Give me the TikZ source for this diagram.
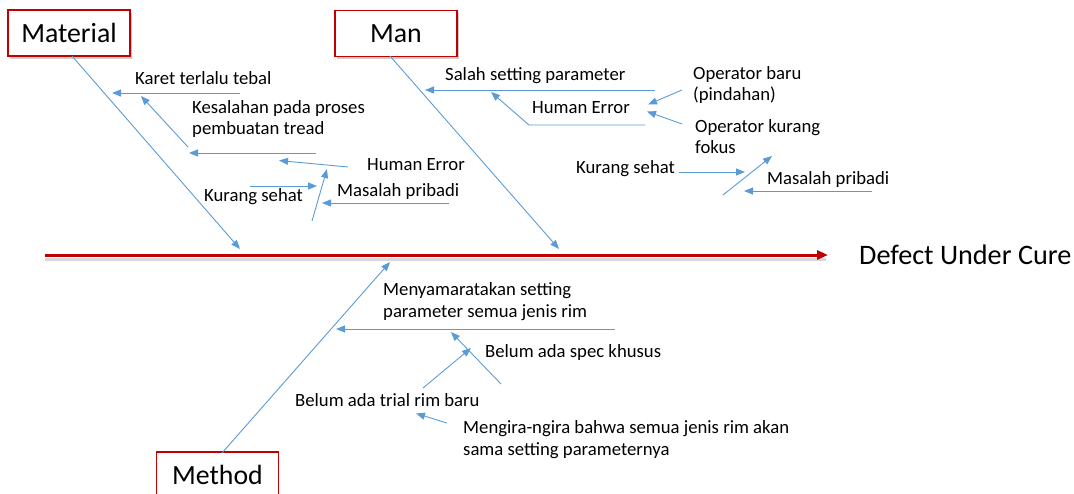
\documentclass[tikz,border=0pt]{standalone}
\usepackage{fontspec}
\setmainfont{Carlito}
\usetikzlibrary{arrows.meta}
\definecolor{bl}{RGB}{91,155,213}
\definecolor{rd}{RGB}{192,0,0}
\tikzset{
  lbl/.style={inner sep=0pt, anchor=west, font=\fontsize{18.7}{21.5}\selectfont, align=left},
  cat/.style={draw=rd, line width=1.2pt, fill=white, minimum width=122pt, minimum height=46pt, inner sep=0pt, font=\fontsize{27.8}{30}\selectfont},
  br/.style={draw=bl, line width=0.9pt, -{Triangle[length=9pt,width=7pt]}},
  sub/.style={draw=bl, line width=0.9pt, -{Triangle[length=9pt,width=7pt]}},
}
\begin{document}
\begin{tikzpicture}[x=1pt,y=-1pt]
\useasboundingbox (0,0) rectangle (1074,493);
\clip (0,0) rectangle (1074,493);
% spine
\coordinate (s0) at (45,255);
\coordinate (s1) at (828,255);
\coordinate (sh0) at (45,259);
\coordinate (sh1) at (826,259);
\draw[gray!60, line width=3pt, opacity=0.5] (sh0) -- (sh1);
\draw[rd, line width=3pt, -{Triangle[length=11pt,width=9pt]}] (s0) -- (s1);
\node[lbl, font=\fontsize{28.2}{30}\selectfont] (effect) at (859,255) {Defect Under Cure};

% category boxes
\node[cat, fill=gray!40, draw=none] at (71,35.5) {\phantom{Material}};
\node[cat] (mat) at (69,33) {Material};
\node[cat, fill=gray!40, draw=none] at (398,36) {\phantom{Man}};
\node[cat] (man) at (396,33.5) {Man};
\node[cat] (met) at (217.5,475) {Method};

% main bones
\coordinate (m0) at (72,56);
\coordinate (m1) at (240,249);
\draw[br] (m0) -- (m1);
\coordinate (n0) at (390,56);
\coordinate (n1) at (559,249);
\draw[br] (n0) -- (n1);
\coordinate (t0) at (222,453);
\coordinate (t1) at (390,262);
\draw[br] (t0) -- (t1);

% Material causes
\node[lbl] (karet) at (135,78) {Karet terlalu tebal};
\coordinate (k0) at (240,93); \coordinate (k1) at (112,93);
\draw[sub] (k0) -- (k1);
\node[lbl] (kes) at (192,119) {Kesalahan pada proses\\pembuatan tread};
\coordinate (ke0) at (316,153); \coordinate (ke1) at (189,153);
\draw[sub] (ke0) -- (ke1);
\coordinate (kd0) at (188,147); \coordinate (kd1) at (141,96);
\draw[sub] (kd0) -- (kd1);
\node[lbl] (he1) at (367,165) {Human Error};
\coordinate (h0) at (348,167); \coordinate (h1) at (279,160.5);
\draw[sub] (h0) -- (h1);
\node[lbl] (ks1) at (204,197) {Kurang sehat};
\coordinate (ks0) at (250,186); \coordinate (ks2) at (317,186);
\draw[sub] (ks0) -- (ks2);
\coordinate (hd0) at (312,221); \coordinate (hd1) at (327,169);
\draw[sub] (hd0) -- (hd1);
\node[lbl] (mp1) at (337,192) {Masalah pribadi};
\coordinate (mp0) at (449,203); \coordinate (mp2) at (322,203);
\draw[sub] (mp0) -- (mp2);

% Man causes
\node[lbl] (salah) at (445,76) {Salah setting parameter};
\coordinate (sa0) at (655,90); \coordinate (sa1) at (425,90);
\draw[sub] (sa0) -- (sa1);
\node[lbl] (he2) at (532,108) {Human Error};
\coordinate (he20) at (645,125); \coordinate (he2m) at (529,125); \coordinate (he21) at (491,92);
\draw[sub] (he20) -- (he2m) -- (he21);
\node[lbl] (opb) at (693,85) {Operator baru\\(pindahan)};
\coordinate (ob0) at (682,90); \coordinate (ob1) at (648,104.5);
\draw[sub] (ob0) -- (ob1);
\node[lbl] (opk) at (695,136.5) {Operator kurang\\fokus};
\coordinate (ok0) at (682,124); \coordinate (ok1) at (647,111.5);
\draw[sub] (ok0) -- (ok1);
\node[lbl] (ks2t) at (576,169) {Kurang sehat};
\coordinate (kk0) at (679,172); \coordinate (kk1) at (745,172);
\draw[sub] (kk0) -- (kk1);
\coordinate (dd0) at (723,195); \coordinate (dd1) at (772,156);
\draw[sub] (dd0) -- (dd1);
\node[lbl] (mp2t) at (767,180) {Masalah pribadi};
\coordinate (pp0) at (872,191); \coordinate (pp1) at (744,191);
\draw[sub] (pp0) -- (pp1);

% Method causes
\node[lbl] (meny) at (383,301.5) {Menyamaratakan setting\\parameter semua jenis rim};
\coordinate (my0) at (615,329); \coordinate (my1) at (336,329);
\draw[sub] (my0) -- (my1);
\coordinate (bd0) at (501,384); \coordinate (bd1) at (451,332);
\draw[sub] (bd0) -- (bd1);
\node[lbl] (spec) at (485,353) {Belum ada spec khusus};
\coordinate (bs0) at (423,388); \coordinate (bs1) at (471,348);
\draw[sub] (bs0) -- (bs1);
\node[lbl] (trial) at (295,400) {Belum ada trial rim baru};
\coordinate (tr0) at (447,423); \coordinate (tr1) at (416,413.5);
\draw[sub] (tr0) -- (tr1);
\node[lbl] (meng) at (463,439.5) {Mengira-ngira bahwa semua jenis rim akan\\sama setting parameternya};
\end{tikzpicture}
\end{document}
